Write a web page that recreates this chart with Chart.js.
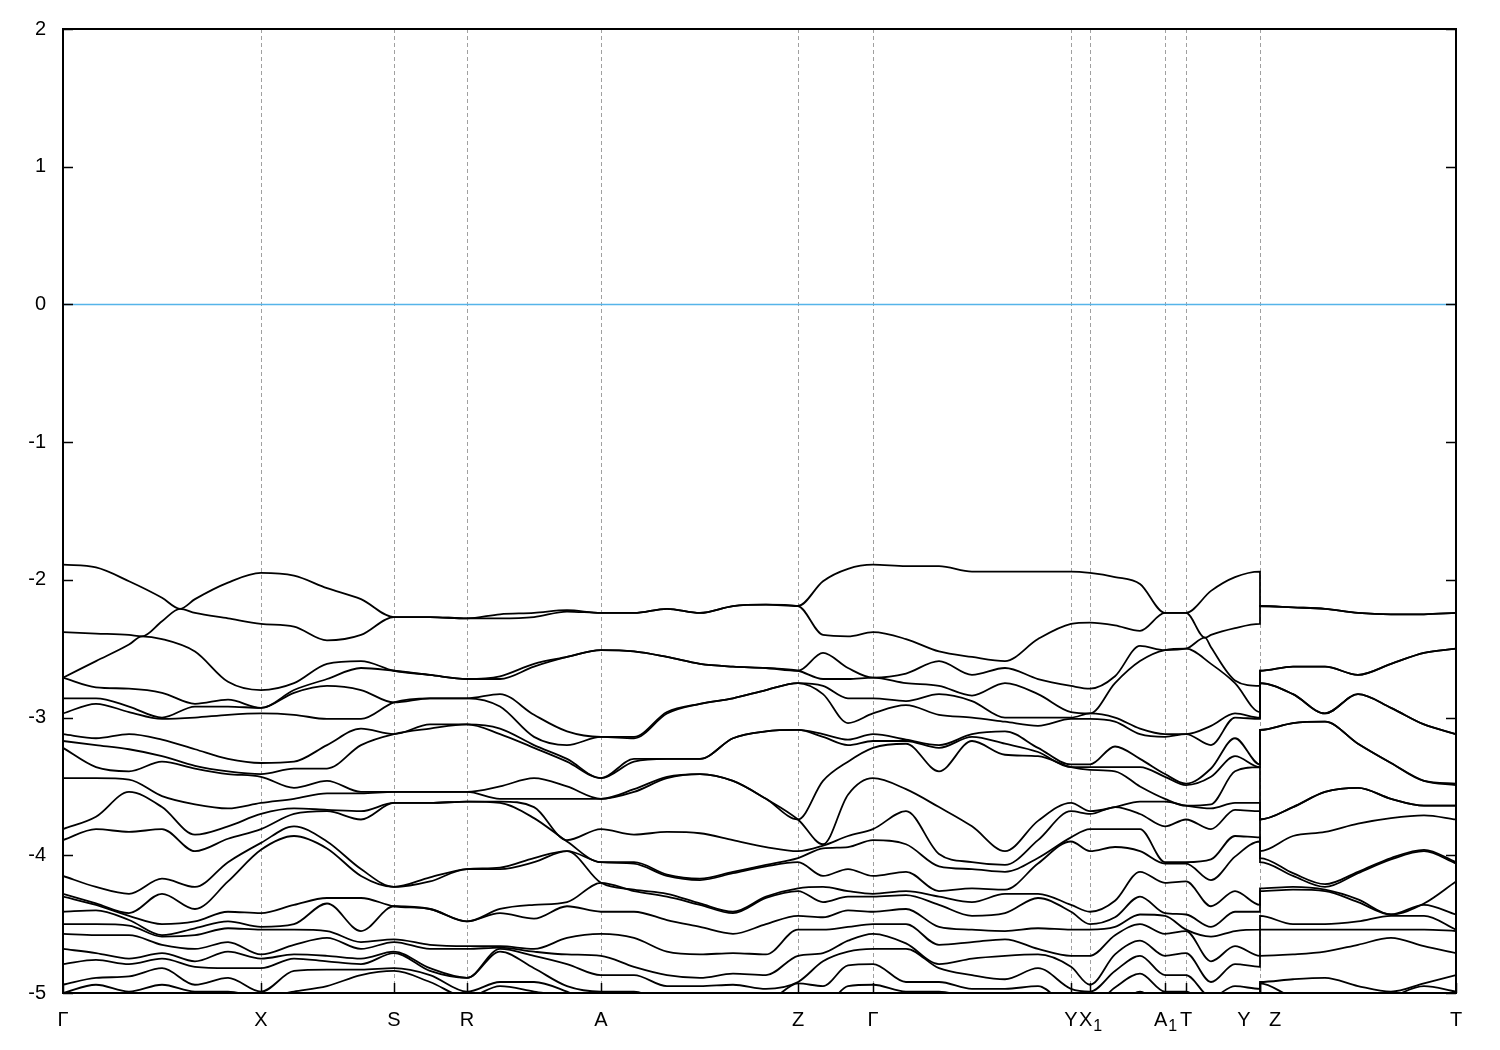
<!DOCTYPE html>
<html><head><meta charset="utf-8">
<script src="https://cdn.jsdelivr.net/npm/chart.js@4.4.1/dist/chart.umd.min.js"></script>
<style>html,body{margin:0;padding:0;background:#fff}canvas{display:block}</style>
</head><body>
<canvas id="c" width="1500" height="1050"></canvas>
<script>
// k-path sample positions (arbitrary path-length units)
const kPath = [0.00,0.33,0.66,0.79,0.99,1.17,1.32,1.65,1.98,2.31,2.64,2.98,3.31,3.67,4.04,4.37,4.71,5.04,5.38,5.71,6.04,6.37,6.70,7.03,7.35,7.60,7.85,8.10,8.43,8.76,9.09,9.42,9.75,10.08,10.27,10.52,10.77,11.02,11.23,11.42,11.48,11.72,11.97,11.97,12.30,12.62,12.95,13.28,13.61,13.93];
// high-symmetry points
const symPos = [0, 1.98, 3.31, 4.04, 5.38, 7.35, 8.10, 10.08, 10.27, 11.02, 11.23, 11.97, 11.97, 13.93];
const symLabels = ['Γ','X','S','R','A','Z','Γ','Y','X_1','A_1','T','Y','Z','T'];
const yTicks = [-5,-4,-3,-2,-1,0,1,2];
const fermiEnergy = 0;

// band energies (eV), sorted from top, at each k sample
const eGamma = [-1.89,-2.38,-2.71,-2.71,-2.86,-2.97,-3.12,-3.17,-3.22,-3.44,-3.81,-3.89,-4.15,-4.28,-4.30,-4.41,-4.50,-4.57,-4.68,-4.79,-4.94,-5.00];
const e01 = [-1.91,-2.39,-2.59,-2.78,-2.86,-2.90,-3.15,-3.20,-3.36,-3.44,-3.72,-3.81,-4.23,-4.35,-4.36,-4.40,-4.50,-4.58,-4.71,-4.76,-4.89,-4.94];
const e02 = [-2.01,-2.40,-2.47,-2.79,-2.92,-2.96,-3.12,-3.23,-3.39,-3.45,-3.54,-3.83,-4.28,-4.42,-4.44,-4.47,-4.51,-4.58,-4.75,-4.79,-4.88,-4.99];
const xc1 = [null,-2.41,-2.41];
const e03 = [-2.13,-2.30,-2.43,-2.82,-3.00,-3.01,-3.16,-3.28,-3.32,-3.57,-3.65,-3.81,-4.17,-4.28,-4.50,-4.58,-4.59,-4.65,-4.71,-4.75,-4.82,-4.94];
const xc2 = [-2.21,-2.21];
const e05 = [-2.14,-2.24,-2.52,-2.90,-2.92,-3.00,-3.23,-3.35,-3.37,-3.63,-3.85,-3.97,-4.23,-4.39,-4.48,-4.53,-4.58,-4.68,-4.77,-4.81,-4.94,-4.99];
const e06 = [-2.02,-2.28,-2.74,-2.87,-2.92,-2.98,-3.30,-3.39,-3.41,-3.66,-3.79,-3.88,-4.05,-4.19,-4.41,-4.48,-4.53,-4.63,-4.70,-4.82,-4.89,-4.99];
const eX = [-1.95,-2.32,-2.80,-2.93,-2.93,-2.97,-3.33,-3.41,-3.43,-3.62,-3.70,-3.81,-3.91,-3.96,-4.42,-4.52,-4.54,-4.72,-4.75,-4.82,-4.99,-5.03];
const e08 = [-1.97,-2.34,-2.75,-2.80,-2.82,-2.98,-3.32,-3.37,-3.51,-3.59,-3.66,-3.70,-3.79,-3.86,-4.36,-4.50,-4.54,-4.65,-4.72,-4.75,-4.84,-4.99];
const e09 = [-2.06,-2.44,-2.61,-2.72,-2.77,-3.01,-3.20,-3.37,-3.46,-3.55,-3.67,-3.68,-3.90,-3.95,-4.31,-4.35,-4.55,-4.60,-4.73,-4.77,-4.83,-4.95];
const e10 = [-2.14,-2.40,-2.59,-2.64,-2.80,-3.01,-3.08,-3.20,-3.54,-3.55,-3.68,-3.74,-4.10,-4.15,-4.31,-4.55,-4.63,-4.68,-4.75,-4.79,-4.83,-4.87];
const eS = [-2.27,-2.27,-2.66,-2.66,-2.89,-2.89,-3.12,-3.12,-3.54,-3.54,-3.62,-3.62,-4.23,-4.23,-4.37,-4.37,-4.61,-4.63,-4.70,-4.71,-4.82,-4.84];
const e12 = [-2.27,-2.27,-2.69,-2.69,-2.86,-2.86,-3.05,-3.08,-3.54,-3.54,-3.62,-3.62,-4.16,-4.19,-4.39,-4.39,-4.65,-4.68,-4.82,-4.84,-4.87,-4.92];
const eR = [-2.28,-2.28,-2.72,-2.72,-2.86,-2.86,-3.05,-3.05,-3.54,-3.54,-3.61,-3.61,-4.10,-4.10,-4.48,-4.48,-4.66,-4.68,-4.89,-4.89,-4.99,-5.03];
const e14 = [-2.25,-2.28,-2.70,-2.72,-2.83,-2.92,-3.08,-3.12,-3.50,-3.59,-3.61,-3.62,-4.09,-4.10,-4.39,-4.42,-4.66,-4.67,-4.68,-4.70,-4.92,-4.95];
const e15 = [-2.24,-2.27,-2.61,-2.63,-2.98,-3.14,-3.20,-3.22,-3.44,-3.59,-3.65,-3.73,-4.02,-4.05,-4.36,-4.46,-4.68,-4.70,-4.73,-4.82,-4.92,-4.99];
const e16 = [-2.22,-2.23,-2.56,-2.56,-3.10,-3.20,-3.30,-3.32,-3.50,-3.59,-3.89,-3.90,-3.97,-3.97,-4.34,-4.37,-4.60,-4.72,-4.79,-4.95,-4.99,-5.03];
const eA = [-2.24,-2.24,-2.51,-2.51,-3.14,-3.14,-3.44,-3.44,-3.59,-3.59,-3.81,-4.05,-4.05,-4.20,-4.20,-4.41,-4.57,-4.73,-4.87,-4.99,-5.10,-5.13];
const e18 = [-2.24,-2.24,-2.52,-2.52,-3.14,-3.15,-3.30,-3.32,-3.52,-3.54,-3.85,-4.05,-4.06,-4.25,-4.26,-4.41,-4.60,-4.81,-4.87,-4.99,-5.10,-5.13];
const e19 = [-2.21,-2.21,-2.56,-2.56,-2.96,-2.97,-3.30,-3.30,-3.43,-3.44,-3.83,-4.14,-4.15,-4.28,-4.30,-4.47,-4.70,-4.87,-4.95,-5.06,-5.10,-5.13];
const e20 = [-2.24,-2.24,-2.61,-2.61,-2.90,-2.90,-3.30,-3.30,-3.41,-3.41,-3.84,-4.17,-4.18,-4.35,-4.36,-4.52,-4.72,-4.89,-4.95,-5.06,-5.10,-5.13];
const e21 = [-2.19,-2.19,-2.63,-2.63,-2.86,-2.86,-3.15,-3.15,-3.46,-3.46,-3.89,-4.12,-4.13,-4.41,-4.42,-4.57,-4.71,-4.86,-4.94,-5.06,-5.10,-5.13];
const e22 = [-2.18,-2.18,-2.64,-2.64,-2.80,-2.80,-3.10,-3.10,-3.59,-3.59,-3.94,-4.07,-4.08,-4.30,-4.31,-4.50,-4.72,-4.87,-4.97,-5.06,-5.10,-5.13];
const eZ = [-2.19,-2.19,-2.66,-2.66,-2.75,-2.75,-3.09,-3.09,-3.74,-3.74,-3.97,-4.02,-4.05,-4.24,-4.26,-4.44,-4.54,-4.73,-4.92,-4.93,-5.10,-5.13];
const e24 = [-2.01,-2.40,-2.53,-2.72,-2.77,-2.83,-3.12,-3.14,-3.46,-3.92,-3.93,-3.95,-4.15,-4.23,-4.34,-4.45,-4.54,-4.71,-4.77,-4.95,-5.10,-5.13];
const e25 = [-1.92,-2.41,-2.64,-2.72,-2.86,-3.04,-3.16,-3.20,-3.32,-3.56,-3.86,-3.94,-4.10,-4.26,-4.30,-4.40,-4.52,-4.62,-4.70,-4.80,-4.95,-5.06];
const e27 = [-1.90,-2.43,-2.68,-2.75,-2.88,-2.91,-3.16,-3.17,-3.19,-3.52,-3.68,-3.92,-4.12,-4.26,-4.29,-4.39,-4.50,-4.64,-4.68,-4.92,-4.99,-5.06];
const e28 = [-1.90,-2.52,-2.59,-2.77,-2.83,-2.98,-3.20,-3.22,-3.39,-3.65,-3.99,-4.08,-4.26,-4.30,-4.36,-4.52,-4.65,-4.79,-4.82,-4.92,-4.99,-5.06];
const e29 = [-1.94,-2.56,-2.69,-2.84,-2.88,-3.00,-3.12,-3.14,-3.17,-3.79,-4.05,-4.10,-4.24,-4.34,-4.44,-4.54,-4.63,-4.75,-4.87,-4.97,-5.03,-5.06];
const e30 = [-1.94,-2.59,-2.64,-2.75,-3.00,-3.03,-3.10,-3.19,-3.27,-3.97,-4.07,-4.12,-4.25,-4.28,-4.42,-4.55,-4.61,-4.73,-4.90,-4.97,-5.03,-5.06];
const e31 = [-1.94,-2.43,-2.72,-2.83,-3.00,-3.06,-3.22,-3.25,-3.28,-3.75,-3.89,-4.02,-4.06,-4.28,-4.31,-4.53,-4.68,-4.72,-4.82,-4.95,-5.10,-5.13];
const eY = [-1.94,-2.32,-2.77,-2.96,-3.00,-3.01,-3.34,-3.36,-3.36,-3.62,-3.68,-3.87,-3.90,-4.36,-4.41,-4.54,-4.73,-4.81,-4.97,-5.10,-5.13,-5.17];
const eX1 = [-1.95,-2.31,-2.79,-2.97,-2.97,-3.01,-3.34,-3.36,-3.38,-3.68,-3.70,-3.81,-3.97,-4.41,-4.50,-4.54,-4.73,-4.94,-4.99,-5.10,-5.13,-5.17];
const e34 = [-1.98,-2.33,-2.70,-2.75,-3.00,-3.03,-3.21,-3.36,-3.39,-3.65,-3.65,-3.81,-3.94,-4.33,-4.45,-4.52,-4.58,-4.72,-4.84,-4.96,-5.10,-5.13];
const e35 = [-2.03,-2.37,-2.48,-2.59,-3.08,-3.12,-3.30,-3.36,-3.50,-3.61,-3.70,-3.81,-3.97,-4.12,-4.30,-4.43,-4.50,-4.62,-4.73,-4.86,-4.99,-5.10];
const eA1 = [-2.24,-2.24,-2.51,-2.51,-3.12,-3.14,-3.41,-3.43,-3.59,-3.61,-3.79,-4.05,-4.06,-4.20,-4.42,-4.44,-4.57,-4.73,-4.87,-4.99,-5.10,-5.13];
const eT = [-2.24,-2.24,-2.50,-2.50,-3.12,-3.12,-3.48,-3.49,-3.64,-3.64,-3.74,-4.05,-4.06,-4.19,-4.43,-4.54,-4.55,-4.71,-4.87,-4.99,-5.10,-5.13];
const xc3 = [null,-2.42,-2.42];
const e38 = [-2.08,-2.40,-2.49,-2.61,-3.06,-3.20,-3.37,-3.43,-3.63,-3.66,-3.81,-4.03,-4.18,-4.37,-4.52,-4.59,-4.77,-4.92,-5.03,-5.10,-5.13,-5.17];
const e39 = [-1.98,-2.35,-2.73,-2.75,-2.97,-3.00,-3.15,-3.28,-3.39,-3.62,-3.67,-3.86,-4.01,-4.26,-4.41,-4.55,-4.66,-4.79,-4.95,-5.10,-5.13,-5.17];
const e42 = [-2.20,-2.20,-2.63,-2.63,-2.83,-2.83,-3.04,-3.04,-3.65,-3.65,-3.86,-4.13,-4.15,-4.23,-4.25,-4.50,-4.54,-4.72,-4.90,-5.03,-5.10,-5.13];
const e43 = [-2.21,-2.21,-2.63,-2.63,-2.97,-2.97,-3.03,-3.03,-3.54,-3.54,-3.83,-4.21,-4.23,-4.25,-4.26,-4.50,-4.54,-4.70,-4.89,-5.06,-5.10,-5.13];
const e44 = [-2.24,-2.24,-2.69,-2.69,-2.83,-2.83,-3.19,-3.19,-3.51,-3.51,-3.77,-4.12,-4.13,-4.32,-4.34,-4.48,-4.54,-4.65,-4.95,-5.10,-5.13,-5.17];
const e45 = [-2.25,-2.25,-2.61,-2.61,-2.93,-2.93,-3.33,-3.33,-3.59,-3.59,-3.73,-4.02,-4.03,-4.43,-4.43,-4.44,-4.54,-4.60,-4.99,-5.03,-5.10,-5.13];
const e46 = [-2.25,-2.25,-2.53,-2.53,-3.05,-3.05,-3.46,-3.46,-3.64,-3.64,-3.71,-3.96,-3.97,-4.35,-4.36,-4.44,-4.54,-4.66,-4.93,-4.95,-5.10,-5.13];

const energyAtK = [eGamma,e01,e02,xc1,e03,xc2,e05,e06,eX,e08,e09,e10,eS,e12,eR,e14,e15,e16,eA,e18,e19,e20,e21,e22,eZ,e24,e25,eGamma,e27,e28,e29,e30,e31,eY,eX1,e34,e35,eA1,eT,xc3,e38,e39,eY,eZ,e42,e43,e44,e45,e46,eT];

const nBands = Math.max(...energyAtK.map(a => a.length));
const datasets = [];
for (let b = 0; b < nBands; b++) {
  datasets.push({
    data: kPath.map((k, j) => ({x: k, y: energyAtK[j][b] == null ? null : energyAtK[j][b]})),
    borderColor: '#000', borderWidth: 1.8, pointRadius: 0, fill: false,
    cubicInterpolationMode: 'monotone', spanGaps: true
  });
}
datasets.push({
  data: [{x: kPath[0], y: fermiEnergy}, {x: kPath[kPath.length - 1], y: fermiEnergy}],
  borderColor: '#56b4e9', borderWidth: 1.5, pointRadius: 0, fill: false, tension: 0
});

const FONT = '"Liberation Sans", Arial, sans-serif';
const framePlugin = {
  id: 'frame',
  beforeDatasetsDraw(chart) {
    const {ctx, chartArea: a, scales: {x}} = chart;
    ctx.save();
    ctx.strokeStyle = '#a0a0a0'; ctx.lineWidth = 1; ctx.setLineDash([4, 3]);
    symPos.forEach(v => {
      if (v <= x.min || v >= x.max) return;
      const px = Math.round(x.getPixelForValue(v)) + 0.5;
      ctx.beginPath(); ctx.moveTo(px, a.top); ctx.lineTo(px, a.bottom); ctx.stroke();
    });
    ctx.restore();
  },
  afterDatasetsDraw(chart) {
    const {ctx, chartArea: a, scales: {x, y}} = chart;
    ctx.save();
    ctx.setLineDash([]);
    ctx.strokeStyle = '#000'; ctx.lineWidth = 2;
    ctx.strokeRect(a.left, a.top, a.right - a.left, a.bottom - a.top);
    ctx.lineWidth = 1.5;
    yTicks.forEach(t => {
      const py = Math.round(y.getPixelForValue(t)) + 0.5;
      ctx.beginPath();
      ctx.moveTo(a.left, py); ctx.lineTo(a.left + 10, py);
      ctx.moveTo(a.right, py); ctx.lineTo(a.right - 10, py);
      ctx.stroke();
    });
    symPos.forEach(v => {
      const px = Math.round(x.getPixelForValue(v)) + 0.5;
      ctx.beginPath(); ctx.moveTo(px, a.bottom); ctx.lineTo(px, a.bottom - 10); ctx.stroke();
    });
    ctx.fillStyle = '#000'; ctx.textBaseline = 'middle'; ctx.textAlign = 'left';
    const ly = a.bottom + 27;
    symLabels.forEach((lab, i) => {
      let px = x.getPixelForValue(symPos[i]);
      if (i > 0 && symPos[i] === symPos[i - 1]) px += 15;
      else if (i < symPos.length - 1 && symPos[i] === symPos[i + 1]) px -= 16;
      const parts = lab.split('_');
      ctx.font = '20px ' + FONT;
      const w1 = ctx.measureText(parts[0]).width;
      let w2 = 0;
      if (parts[1]) { ctx.font = '16px ' + FONT; w2 = ctx.measureText(parts[1]).width; }
      const start = px - (w1 + w2) / 2;
      ctx.font = '20px ' + FONT;
      ctx.fillText(parts[0], start, ly);
      if (parts[1]) { ctx.font = '16px ' + FONT; ctx.fillText(parts[1], start + w1 + 1, ly + 7); }
    });
    ctx.restore();
  }
};

new Chart(document.getElementById('c'), {
  type: 'line',
  data: {datasets},
  options: {
    responsive: false, animation: false, devicePixelRatio: 1,
    layout: {padding: {top: 29, right: 44, left: 0, bottom: 0}},
    plugins: {legend: {display: false}, tooltip: {enabled: false}},
    events: [],
    scales: {
      x: {type: 'linear', min: kPath[0], max: kPath[kPath.length - 1],
          grid: {display: false, drawTicks: false}, border: {display: false},
          ticks: {display: false},
          afterFit: s => { s.height = 57; }},
      y: {type: 'linear', min: -5, max: 2,
          grid: {display: false, drawTicks: false}, border: {display: false},
          ticks: {stepSize: 1, color: '#000', padding: 17, font: {family: FONT, size: 20}},
          afterFit: s => { s.width = 63; }}
    }
  },
  plugins: [framePlugin]
});
</script>
</body></html>
